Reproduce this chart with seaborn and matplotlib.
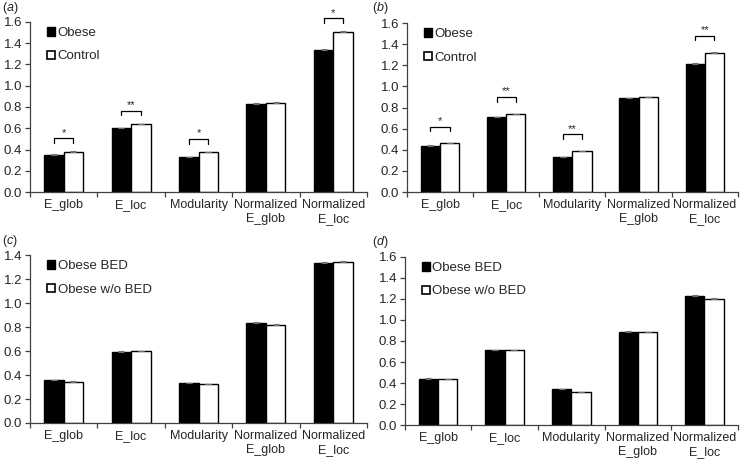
import numpy as np
import pandas as pd
import matplotlib
matplotlib.use("Agg")
import matplotlib.pyplot as plt
import seaborn as sns
from matplotlib.ticker import MultipleLocator, FixedLocator

# 数据
categories = ["E_glob", "E_loc", "Modularity", "Normalized\nE_glob", "Normalized\nE_loc"]

a_obese = [0.35, 0.60, 0.33, 0.83, 1.34]
a_control = [0.38, 0.64, 0.375, 0.84, 1.51]
a_err_obese = [0.004, 0.004, 0.004, 0.004, 0.008]
a_err_control = [0.004, 0.004, 0.005, 0.005, 0.006]
a_sig = ["*", "**", "*", "", "*"]

b_obese = [0.44, 0.71, 0.33, 0.89, 1.21]
b_control = [0.46, 0.74, 0.385, 0.895, 1.32]
b_err_obese = [0.003, 0.003, 0.003, 0.004, 0.008]
b_err_control = [0.003, 0.003, 0.004, 0.004, 0.006]
b_sig = ["*", "**", "**", "", "**"]

c_bed = [0.355, 0.595, 0.33, 0.835, 1.335]
c_nobed = [0.345, 0.60, 0.325, 0.82, 1.34]
c_err_bed = [0.004, 0.004, 0.005, 0.006, 0.01]
c_err_nobed = [0.003, 0.003, 0.004, 0.004, 0.008]

d_bed = [0.44, 0.715, 0.34, 0.89, 1.225]
d_nobed = [0.435, 0.71, 0.315, 0.885, 1.20]
d_err_bed = [0.004, 0.004, 0.006, 0.006, 0.01]
d_err_nobed = [0.003, 0.003, 0.004, 0.005, 0.008]

sns.set_style("white")
plt.rcParams["font.family"] = ["Liberation Sans", "DejaVu Sans"]
plt.rcParams["mathtext.fontset"] = "custom"
plt.rcParams["mathtext.it"] = "Liberation Sans:italic"
plt.rcParams["mathtext.rm"] = "Liberation Sans"

AXIS_COLOR = "#404040"


def draw_panel(ax, v1, v2, e1, e2, names, ymax, sig=None, sig_off=0.12):
    df = pd.DataFrame({
        "cat": categories * 2,
        "val": list(v1) + list(v2),
        "grp": [names[0]] * 5 + [names[1]] * 5,
    })
    sns.barplot(data=df, x="cat", y="val", hue="grp", order=categories,
                hue_order=names, palette=["black", "white"], width=0.58,
                edgecolor="black", linewidth=1.0, errorbar=None, ax=ax,
                legend=False)

    # 误差线
    for cont, err in zip(ax.containers, [e1, e2]):
        xs = [p.get_x() + p.get_width() / 2 for p in cont.patches]
        hs = [p.get_height() for p in cont.patches]
        ax.errorbar(xs, hs, yerr=[np.zeros(len(err)), err], fmt="none",
                    ecolor="#707070", elinewidth=0.8, capsize=2.5, capthick=0.8,
                    zorder=3)

    # 显著性标记
    if sig is not None:
        left, right = ax.containers[0].patches, ax.containers[1].patches
        for i, s in enumerate(sig):
            if not s:
                continue
            x1 = left[i].get_x() + left[i].get_width() / 2
            x2 = right[i].get_x() + right[i].get_width() / 2
            top = max(left[i].get_height(), right[i].get_height()) + sig_off
            ax.plot([x1, x1, x2, x2], [top - 0.045, top, top, top - 0.045],
                    color="black", lw=0.9, clip_on=False)
            ax.text((x1 + x2) / 2, top + 0.005, s, ha="center", va="bottom",
                    fontsize=8)

    ax.set_ylim(0, ymax)
    ax.set_xlim(-0.5, 4.5)
    ax.yaxis.set_major_locator(MultipleLocator(0.2))
    ax.yaxis.set_major_formatter(matplotlib.ticker.FormatStrFormatter("%.1f"))
    ax.set_xlabel("")
    ax.set_ylabel("")
    ax.xaxis.set_minor_locator(FixedLocator(np.arange(-0.5, 5, 1)))
    ax.tick_params(axis="x", which="major", length=0, labelsize=9, pad=5)
    ax.tick_params(axis="x", which="minor", length=3.5, width=0.9,
                   direction="out", color=AXIS_COLOR, bottom=True)
    ax.tick_params(axis="y", length=3.5, width=0.9, direction="out",
                   color=AXIS_COLOR, labelsize=9.5, pad=2, left=True)
    for sp in ["top", "right"]:
        ax.spines[sp].set_visible(False)
    for sp in ["left", "bottom"]:
        ax.spines[sp].set_color(AXIS_COLOR)
        ax.spines[sp].set_linewidth(0.9)

    handles = [plt.Rectangle((0, 0), 1, 1, facecolor="black", edgecolor="black", lw=1),
               plt.Rectangle((0, 0), 1, 1, facecolor="white", edgecolor="black", lw=1.2)]
    ax.legend(handles, names, loc="upper left", bbox_to_anchor=(0.035, 1.0),
              frameon=False, handlelength=0.6, handleheight=0.6,
              handletextpad=0.2, labelspacing=0.85, fontsize=9.5,
              borderaxespad=0)


fig = plt.figure(figsize=(7.4, 4.63), dpi=100)
ax_a = fig.add_axes([0.0405, 0.5853, 0.4555, 0.3672])
ax_b = fig.add_axes([0.550, 0.5853, 0.447, 0.365])
ax_c = fig.add_axes([0.0405, 0.0864, 0.4555, 0.3628])
ax_d = fig.add_axes([0.547, 0.082, 0.450, 0.363])

draw_panel(ax_a, a_obese, a_control, a_err_obese, a_err_control,
           ["Obese", "Control"], 1.6, sig=a_sig, sig_off=0.125)
draw_panel(ax_b, b_obese, b_control, b_err_obese, b_err_control,
           ["Obese", "Control"], 1.6, sig=b_sig, sig_off=0.16)
draw_panel(ax_c, c_bed, c_nobed, c_err_bed, c_err_nobed,
           ["Obese BED", "Obese w/o BED"], 1.4)
draw_panel(ax_d, d_bed, d_nobed, d_err_bed, d_err_nobed,
           ["Obese BED", "Obese w/o BED"], 1.6)

for lbl, x, y in [("a", 2, 8), ("b", 372, 8), ("c", 2, 241), ("d", 372, 242)]:
    fig.text(x / 740, 1 - y / 463, "($\\mathit{%s}$)" % lbl, ha="left",
             va="center", fontsize=9)

fig.savefig("out.png", dpi=100)
